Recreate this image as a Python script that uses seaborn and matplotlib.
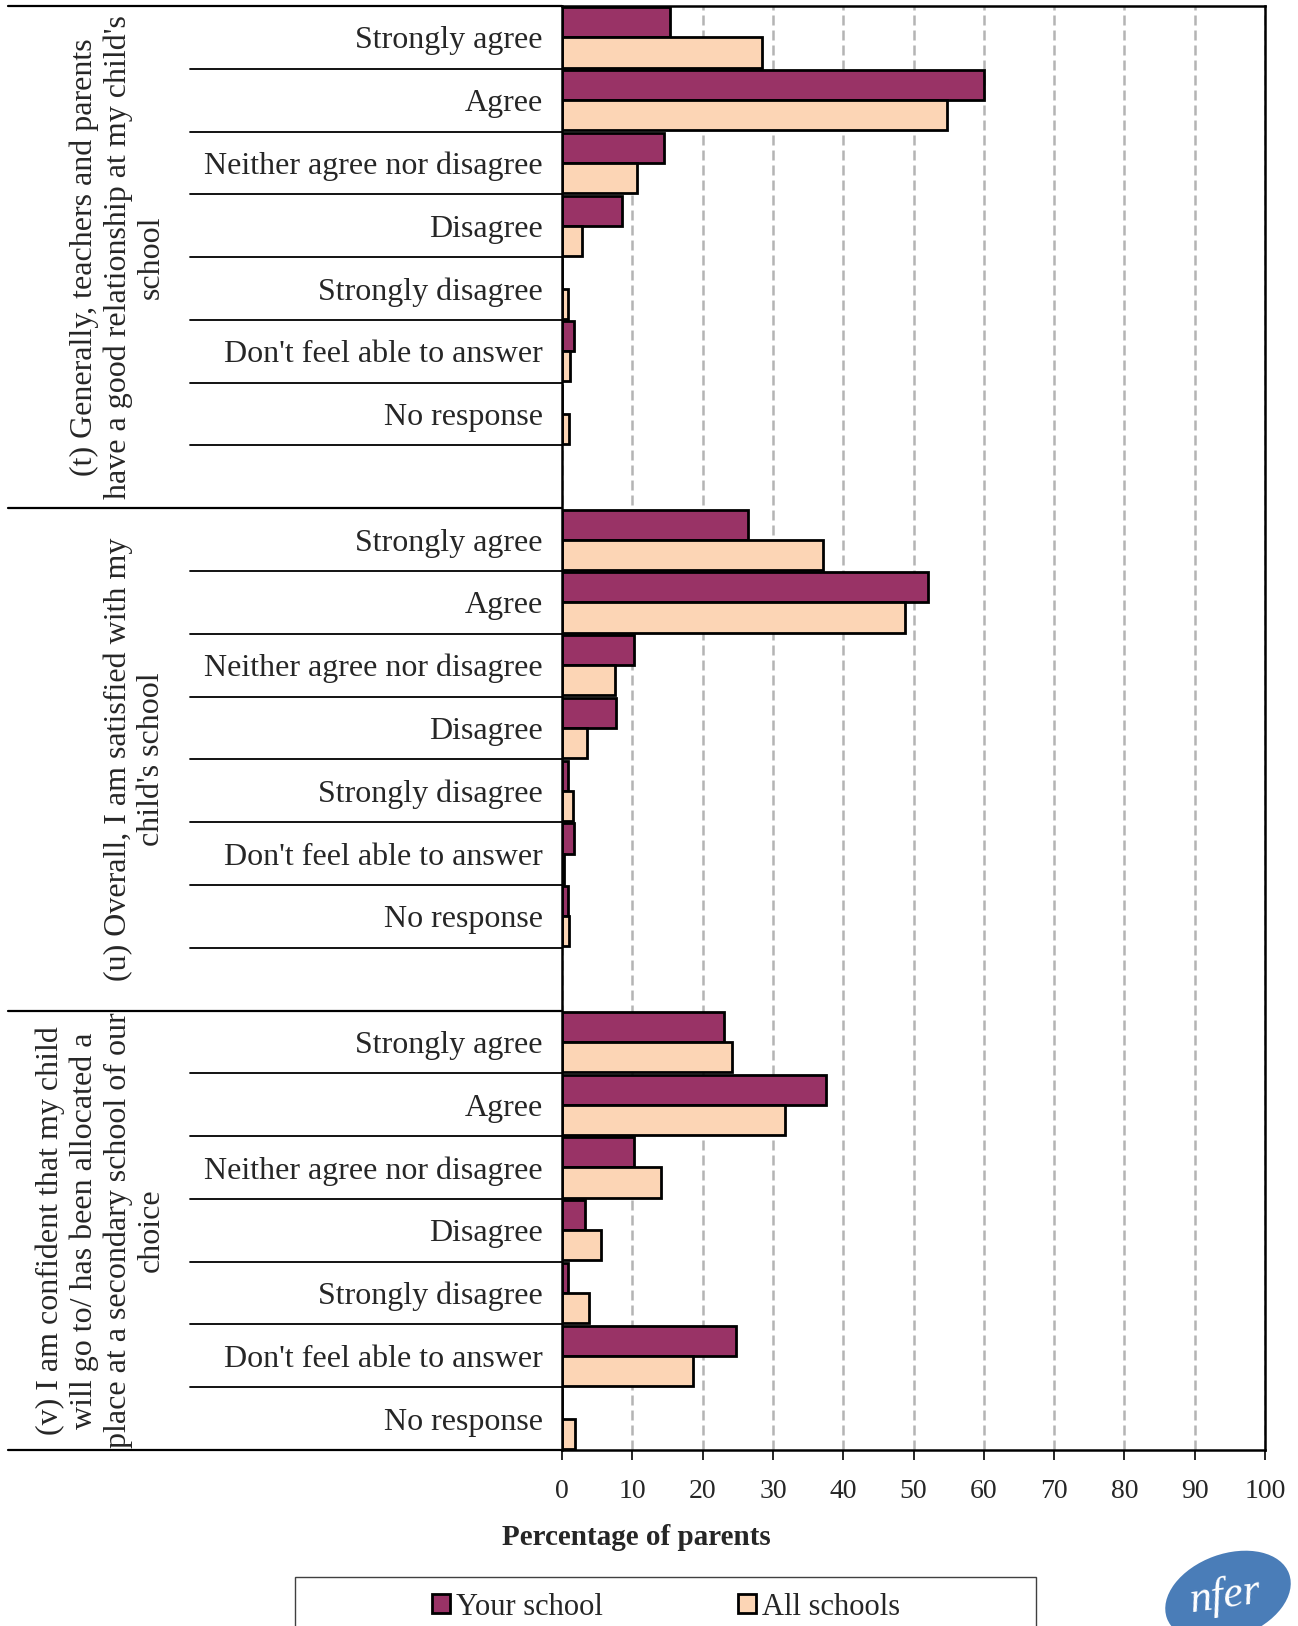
import numpy as np
import pandas as pd
import seaborn as sns
import matplotlib.pyplot as plt
import matplotlib.transforms as mtransforms
from matplotlib.patches import Rectangle, Ellipse

# categories
responses = ['Strongly agree', 'Agree', 'Neither agree nor disagree', 'Disagree',
             'Strongly disagree', "Don't feel able to answer", 'No response']
questions = ['t', 'u', 'v']
question_text = ["(t) Generally, teachers and parents\nhave a good relationship at my child's\nschool",
                 "(u) Overall, I am satisfied with my\nchild's school",
                 "(v) I am confident that my child\nwill go to/ has been allocated a\nplace at a secondary school of our\nchoice"]
series = ['Your school', 'All schools']

# values (percentage of parents)
your_t = [15.4, 60.0, 14.5, 8.6, 0.0, 1.7, 0.0]
all_t = [28.5, 54.8, 10.6, 2.9, 0.9, 1.2, 1.0]
your_u = [26.5, 52.1, 10.3, 7.7, 0.8, 1.7, 0.8]
all_u = [37.1, 48.8, 7.5, 3.5, 1.5, 0.3, 1.0]
your_v = [23.0, 37.5, 10.2, 3.3, 0.9, 24.8, 0.0]
all_v = [24.2, 31.7, 14.1, 5.5, 3.8, 18.6, 1.8]

x_ticks = [0, 10, 20, 30, 40, 50, 60, 70, 80, 90, 100]

vals = {'t': (your_t, all_t), 'u': (your_u, all_u), 'v': (your_v, all_v)}

# row order: each question's responses, then a blank row (not after the last)
row_order = []
row_labels = []
for i, q in enumerate(questions):
    for r in responses:
        row_order.append(q + '|' + r)
        row_labels.append(r)
    if i < len(questions) - 1:
        row_order.append(q + '|')
        row_labels.append('')

recs = []
for q in questions:
    for s, arr in zip(series, vals[q]):
        for r, v in zip(responses, arr):
            recs.append({'row': q + '|' + r, 'series': s, 'value': v})
df = pd.DataFrame(recs)

sns.set_style('white')
plt.rcParams['font.family'] = ['Liberation Serif', 'DejaVu Serif']

fig = plt.figure(figsize=(12.98, 16.26), dpi=100)
ax = fig.add_axes([562 / 1298, 1 - 1450 / 1626, 703 / 1298, 1444 / 1626])

sns.barplot(data=df, x='value', y='row', hue='series', order=row_order,
            hue_order=series, palette=['#993366', '#FCD5B5'], saturation=1, width=0.96,
            edgecolor='black', linewidth=2.0, errorbar=None, orient='h', ax=ax)

handles, labels = ax.get_legend_handles_labels()
ax.get_legend().remove()

ax.set_xlim(0, 100)
ax.set_ylim(len(row_order) - 0.5, -0.5)
ax.set_xticks(x_ticks)
ax.set_xticklabels([str(t) for t in x_ticks], fontsize=20)
ax.set_yticks(range(len(row_order)))
ax.set_yticklabels(row_labels, fontsize=23)
ax.set_xlabel('')
ax.set_ylabel('')
ax.tick_params(axis='y', length=0, pad=14)
ax.tick_params(axis='x', bottom=True, length=7, width=1.2, color='black', pad=14, direction='out')
ax.set_axisbelow(True)
ax.grid(axis='x', color='#B4B4B4', linestyle=(0, (4, 2)), linewidth=1.8)
ax.grid(axis='y', visible=False)
for sp in ax.spines.values():
    sp.set_color('black')
    sp.set_linewidth(1.8)

# separator lines in the label area
trans = mtransforms.blended_transform_factory(ax.transAxes, ax.transData)
pos = 0
section_edges = [-0.5]
for i, q in enumerate(questions):
    n = len(responses) + (1 if i < len(questions) - 1 else 0)
    for k in range(len(responses)):
        y = pos + k + 0.5
        if not (i == len(questions) - 1 and k == len(responses) - 1):
            ax.plot([-0.529, 0], [y, y], color='black', lw=1.3, transform=trans, clip_on=False)
    pos += n
    section_edges.append(pos - 0.5)
for y in section_edges:
    ax.plot([-0.788, 0], [y, y], color='black', lw=1.6, transform=trans, clip_on=False)

# question labels
for i, txt in enumerate(question_text):
    yc = (section_edges[i] + section_edges[i + 1]) / 2
    ax.text(-0.563, yc, txt, rotation=90, ha='right', va='center', multialignment='center',
            fontsize=23, transform=trans)

fig.text(636 / 1298, 1 - 1537 / 1626, 'Percentage of parents', ha='center', va='center',
         fontsize=21, fontweight='bold')

# legend box (cut by bottom edge)
fig.patches.append(Rectangle((295 / 1298, -0.05), (1036 - 295) / 1298, 0.05 + 1 - 1577 / 1626,
                             transform=fig.transFigure, facecolor='white', edgecolor='#404040',
                             linewidth=1.0))
for h in handles:
    h.set_edgecolor('black')
    h.set_linewidth(2.0)
fig.legend(handles, labels, loc='center', bbox_to_anchor=(666 / 1298, 1 - 1607 / 1626), ncol=2,
           frameon=False, fontsize=22, handlelength=0.6, handleheight=0.6,
           handletextpad=0.2, columnspacing=4.4)

# nfer logo
fig.patches.append(Ellipse((12.28, 0.30), 1.30, 0.84, angle=20, transform=fig.dpi_scale_trans,
                           facecolor='#4A7DB8', edgecolor='none'))
fig.text(12.25, 0.30, 'nfer', transform=fig.dpi_scale_trans, ha='center', va='center',
         fontsize=32, color='white', style='italic', rotation=8)

fig.savefig('out.png', dpi=100)
